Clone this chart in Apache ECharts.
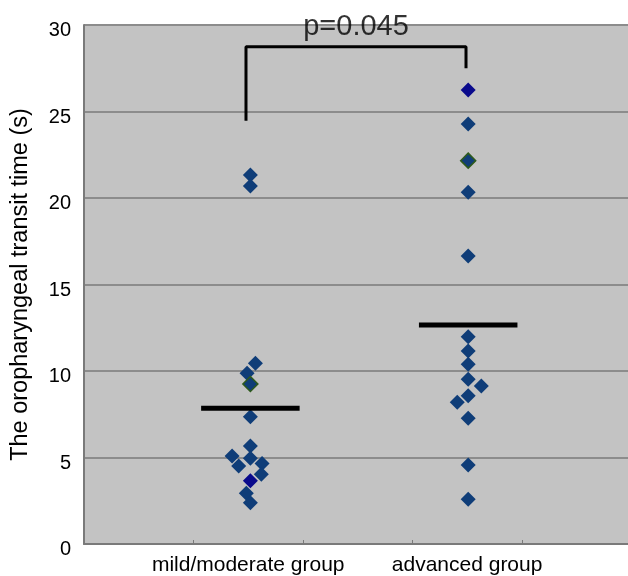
<!DOCTYPE html>
<html>
<head>
<meta charset="utf-8">
<script src="https://cdn.jsdelivr.net/npm/echarts@6/dist/echarts.min.js"></script>
<style>
  html, body { margin: 0; padding: 0; background: #ffffff; }
  #chart { width: 628px; height: 576px; }
</style>
</head>
<body>
<div id="chart"></div>
<script>
// ---- data ----
const groupNames = ['mild/moderate group', 'advanced group'];
const groupCenters = [1.52, 3.51];            // axis positions of the two groups
const labelPositions = [1.5, 3.5];
const yTicks = [0, 5, 10, 15, 20, 25, 30];

const mildValues  = [21.33, 20.69, 10.45, 9.87, 9.25, 7.36, 5.66, 5.09, 4.95, 4.51, 4.66, 4.03, 3.66, 2.93, 2.39];
const mildJitter  = [0, 0, 0.046, -0.03, 0, 0, 0, -0.167, 0, -0.107, 0.107, 0.1, 0, -0.037, 0];
const mildKind    = ['n','n','n','n','g','n','n','n','n','n','n','n','d','n','n'];

const advValues   = [26.24, 24.28, 22.16, 20.33, 16.65, 11.98, 11.16, 10.39, 9.52, 9.13, 8.57, 8.19, 7.27, 4.57, 2.58];
const advJitter   = [0, 0, 0, 0, 0, 0, 0, 0, 0, 0.12, 0, -0.1, 0, 0, 0];
const advKind     = ['d','n','g','n','n','n','n','n','n','n','n','n','n','n','n'];

const means = [7.84, 12.66];
const meanHalfWidth = 0.45;

const pText = 'p=0.045';
const bracketLeftBottom = 24.47, bracketTop = 28.75, bracketRightBottom = 27.5;
const bracketX = [1.48, 3.49];

// ---- build ----
const kindStyle = {
  n: { color: '#0f3d78', borderColor: '#0f3d78', borderWidth: 0, opacity: 1 },
  d: { color: '#0a0a8c', borderColor: '#0a0a8c', borderWidth: 0, opacity: 1 },
  g: { color: '#0f3d78', borderColor: '#2e5a1c', borderWidth: 1.5, opacity: 1 }
};
function pts(vals, jit, kinds, gi) {
  return vals.map((v, i) => ({
    value: [groupCenters[gi] + jit[i], v],
    itemStyle: kindStyle[kinds[i]]
  }));
}

const chart = echarts.init(document.getElementById('chart'), null, { renderer: 'canvas' });
const font = 'Liberation Sans, Arial, sans-serif';

chart.setOption({
  animation: false,
  backgroundColor: '#ffffff',
  grid: {
    left: 84, top: 25, right: 0, bottom: 32,
    show: true, backgroundColor: '#c3c3c3', borderWidth: 0
  },
  xAxis: {
    type: 'value', min: 0, max: 4.97,
    splitLine: { show: false },
    axisLine: { show: true, lineStyle: { color: '#7a7a7a', width: 2 } },
    axisTick: { show: true, inside: true, length: 4, customValues: [1, 2, 3, 4], lineStyle: { color: '#7a7a7a', width: 1 } },
    axisLabel: {
      customValues: labelPositions,
      formatter: v => groupNames[labelPositions.indexOf(v)] || '',
      fontFamily: font, fontSize: 21, color: '#000000', margin: 11
    }
  },
  yAxis: {
    type: 'value', min: 0, max: 30, interval: 5,
    name: 'The oropharyngeal transit time (s)',
    nameLocation: 'middle', nameGap: 51,
    nameTextStyle: { fontFamily: font, fontSize: 23.5, color: '#000000' },
    axisLine: { show: true, lineStyle: { color: '#7a7a7a', width: 2 } },
    axisTick: { show: false },
    splitLine: { show: true, lineStyle: { color: '#8c8c8c', width: 2 } },
    axisLabel: {
      margin: 13,
      formatter: v => (yTicks.indexOf(v) >= 0 ? '{v|' + v + '}' : ''),
      rich: {
        v: { fontFamily: font, fontSize: 20, color: '#000000', padding: [11, 0, 0, 0] }
      }
    }
  },
  series: [
    {
      type: 'scatter', symbol: 'diamond', symbolSize: 15, clip: false,
      itemStyle: { opacity: 1 },
      data: pts(mildValues, mildJitter, mildKind, 0).concat(pts(advValues, advJitter, advKind, 1)),
      z: 3
    },
    {
      type: 'line', symbol: 'none', z: 4,
      lineStyle: { color: '#000000', width: 5 },
      data: [[groupCenters[0] - meanHalfWidth, means[0]], [groupCenters[0] + meanHalfWidth, means[0]]]
    },
    {
      type: 'line', symbol: 'none', z: 4,
      lineStyle: { color: '#000000', width: 5 },
      data: [[groupCenters[1] - meanHalfWidth, means[1]], [groupCenters[1] + meanHalfWidth, means[1]]]
    },
    {
      type: 'line', symbol: 'none', z: 4, clip: false,
      lineStyle: { color: '#000000', width: 3 },
      data: [[bracketX[0], bracketLeftBottom], [bracketX[0], bracketTop], [bracketX[1], bracketTop], [bracketX[1], bracketRightBottom]]
    },
    {
      type: 'scatter', symbolSize: 0, clip: false, z: 5,
      data: [[(bracketX[0] + bracketX[1]) / 2, 29.86]],
      label: {
        show: true, position: 'inside', formatter: pText,
        fontFamily: font, fontSize: 29, color: '#000000'
      }
    }
  ]
});
</script>
</body>
</html>
